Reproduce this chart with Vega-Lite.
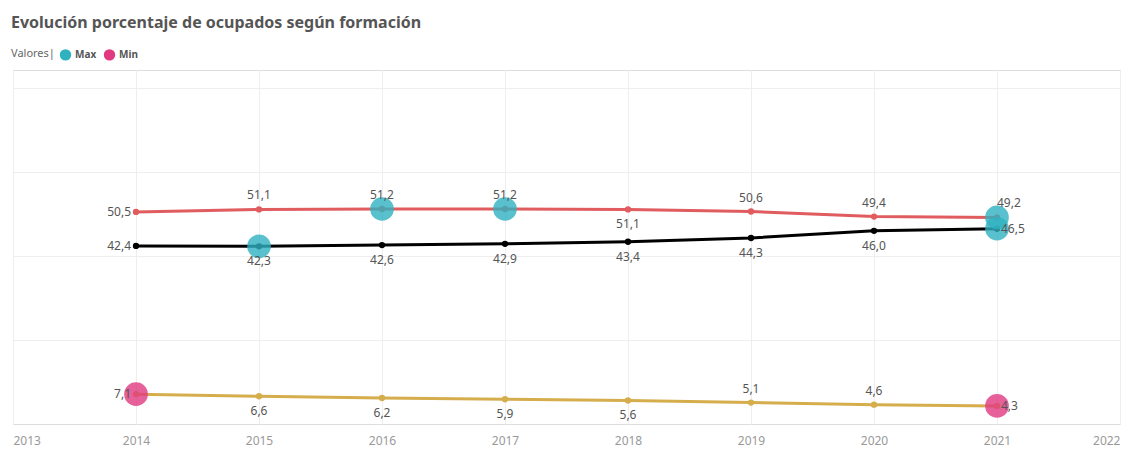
{
  "$schema": "https://vega.github.io/schema/vega-lite/v6.json",
  "autosize": "none",
  "width": 1107,
  "height": 354,
  "padding": {"left": 13, "top": 70, "right": 2, "bottom": 42},
  "config": {
    "locale": {"number": {"decimal": ",", "thousands": ".", "grouping": [3], "currency": ["", " €"]}},
    "font": "Noto Sans",
    "view": {"stroke": "#dddddd"},
    "title": {"font": "Noto Sans", "fontSize": 16, "fontWeight": "bold", "color": "#555555", "anchor": "start", "offset": 17}
  },
  "title": "Evolución porcentaje de ocupados según formación",
  "data": {
    "values": [
      {"year": 2014, "serie": "A", "valor": 50.5, "marca": null},
      {"year": 2015, "serie": "A", "valor": 51.1, "marca": null},
      {"year": 2016, "serie": "A", "valor": 51.2, "marca": "Max"},
      {"year": 2017, "serie": "A", "valor": 51.2, "marca": "Max"},
      {"year": 2018, "serie": "A", "valor": 51.1, "marca": null},
      {"year": 2019, "serie": "A", "valor": 50.6, "marca": null},
      {"year": 2020, "serie": "A", "valor": 49.4, "marca": null},
      {"year": 2021, "serie": "A", "valor": 49.2, "marca": "Max"},
      {"year": 2014, "serie": "B", "valor": 42.4, "marca": null},
      {"year": 2015, "serie": "B", "valor": 42.3, "marca": "Max"},
      {"year": 2016, "serie": "B", "valor": 42.6, "marca": null},
      {"year": 2017, "serie": "B", "valor": 42.9, "marca": null},
      {"year": 2018, "serie": "B", "valor": 43.4, "marca": null},
      {"year": 2019, "serie": "B", "valor": 44.3, "marca": null},
      {"year": 2020, "serie": "B", "valor": 46.0, "marca": null},
      {"year": 2021, "serie": "B", "valor": 46.5, "marca": "Max"},
      {"year": 2014, "serie": "C", "valor": 7.1, "marca": "Min"},
      {"year": 2015, "serie": "C", "valor": 6.6, "marca": null},
      {"year": 2016, "serie": "C", "valor": 6.2, "marca": null},
      {"year": 2017, "serie": "C", "valor": 5.9, "marca": null},
      {"year": 2018, "serie": "C", "valor": 5.6, "marca": null},
      {"year": 2019, "serie": "C", "valor": 5.1, "marca": null},
      {"year": 2020, "serie": "C", "valor": 4.6, "marca": null},
      {"year": 2021, "serie": "C", "valor": 4.3, "marca": "Min"}
    ]
  },
  "encoding": {
    "x": {
      "field": "year", "type": "quantitative",
      "scale": {"domain": [2013, 2022], "nice": false, "zero": false},
      "axis": {
        "title": null, "values": [2013, 2014, 2015, 2016, 2017, 2018, 2019, 2020, 2021, 2022],
        "format": "d", "labelFlush": true, "ticks": false, "domain": false,
        "gridColor": "#eeeeee", "labelColor": "#999999", "labelFontSize": 12, "labelPadding": 11,
        "labelFont": "Noto Sans"
      }
    },
    "y": {
      "field": "valor", "type": "quantitative",
      "scale": {"domain": [0, 84.3], "nice": false},
      "axis": {
        "title": null, "values": [20, 40, 60, 80], "labels": false, "ticks": false, "domain": false,
        "gridColor": "#eeeeee"
      }
    }
  },
  "layer": [
    {
      "mark": {"type": "line", "strokeWidth": 3},
      "encoding": {
        "detail": {"field": "serie"},
        "stroke": {"field": "serie", "type": "nominal", "scale": {"domain": ["A", "B", "C"], "range": ["#e05c5f", "#000000", "#d6ad4c"]}, "legend": null}
      }
    },
    {
      "mark": {"type": "circle", "size": 40, "opacity": 1},
      "encoding": {
        "fill": {"field": "serie", "type": "nominal", "scale": {"domain": ["A", "B", "C"], "range": ["#e05c5f", "#000000", "#d6ad4c"]}, "legend": null}
      }
    },
    {
      "transform": [{"filter": "datum.marca != null"}],
      "mark": {"type": "circle", "size": 560, "opacity": 0.8},
      "encoding": {
        "color": {
          "field": "marca", "type": "nominal",
          "scale": {"domain": ["Max", "Min"], "range": ["#2fb2c0", "#e0397f"]},
          "legend": {
            "title": "Valores|", "orient": "none", "legendX": -2, "legendY": -22, "direction": "horizontal",
            "titleOrient": "left", "titleFontWeight": "normal", "titleFontSize": 11, "titleColor": "#666666",
            "titlePadding": 4, "labelFontSize": 10, "labelFontWeight": "bold", "labelColor": "#555555",
            "symbolSize": 130, "symbolOpacity": 1, "columnPadding": 6, "labelOffset": 3, "titleFont": "Noto Sans", "labelFont": "Noto Sans"
          }
        }
      }
    },
    {
      "transform": [{"filter": "datum.year == 2014"}],
      "mark": {"type": "text", "align": "right", "baseline": "middle", "dx": -5, "fontSize": 12, "color": "#555555"},
      "encoding": {"text": {"field": "valor", "type": "quantitative", "format": ".1f"}}
    },
    {
      "transform": [{"filter": "datum.year == 2021 && datum.serie != 'A'"}],
      "mark": {"type": "text", "align": "left", "baseline": "middle", "dx": 4, "fontSize": 12, "color": "#555555"},
      "encoding": {"text": {"field": "valor", "type": "quantitative", "format": ".1f"}}
    },
    {
      "transform": [{"filter": "datum.year == 2021 && datum.serie == 'A'"}],
      "mark": {"type": "text", "align": "left", "baseline": "middle", "dx": 0, "dy": -14, "fontSize": 12, "color": "#555555"},
      "encoding": {"text": {"field": "valor", "type": "quantitative", "format": ".1f"}}
    },
    {
      "transform": [{"filter": "datum.year > 2014 && datum.year < 2021 && ((datum.serie == 'A' && datum.year != 2018) || (datum.serie == 'C' && datum.year >= 2019))"}],
      "mark": {"type": "text", "align": "center", "baseline": "middle", "dy": -14, "fontSize": 12, "color": "#555555"},
      "encoding": {"text": {"field": "valor", "type": "quantitative", "format": ".1f"}}
    },
    {
      "transform": [{"filter": "datum.year > 2014 && datum.year < 2021 && ((datum.serie == 'A' && datum.year == 2018) || datum.serie == 'B' || (datum.serie == 'C' && datum.year < 2019))"}],
      "mark": {"type": "text", "align": "center", "baseline": "middle", "dy": 15, "fontSize": 12, "color": "#555555"},
      "encoding": {"text": {"field": "valor", "type": "quantitative", "format": ".1f"}}
    }
  ]
}
